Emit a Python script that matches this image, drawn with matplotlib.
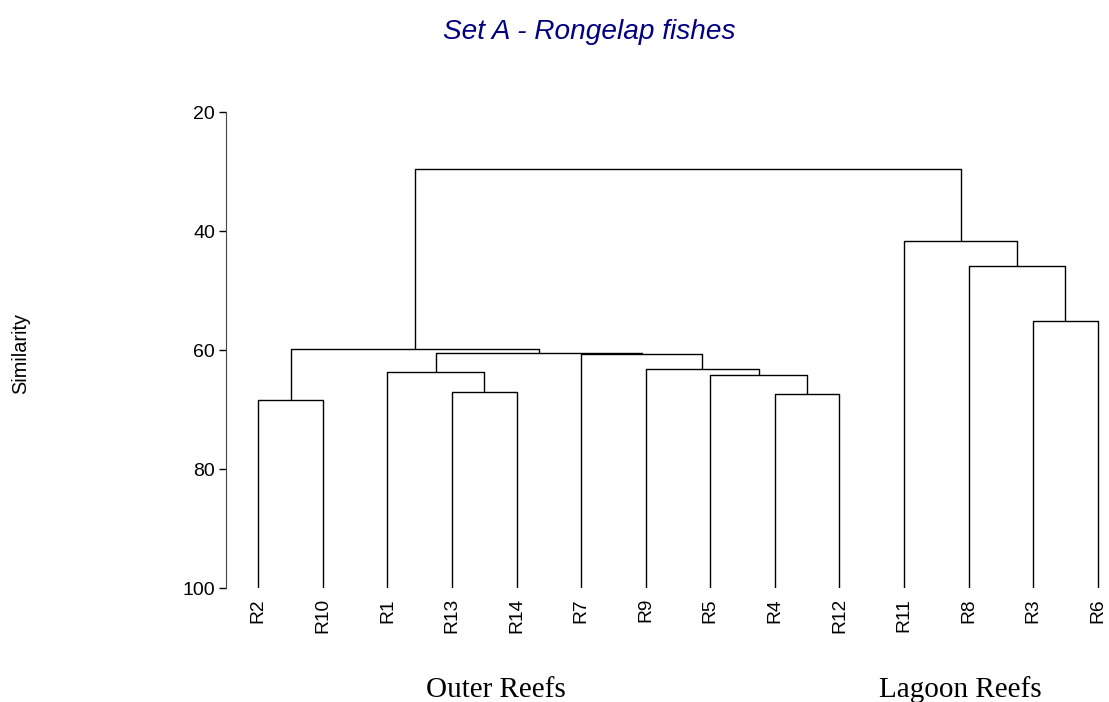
import numpy as np
import matplotlib
matplotlib.use("Agg")
import matplotlib.pyplot as plt

# leaf order as drawn, left to right
labels = ["R2","R10","R1","R13","R14","R7","R9","R5","R4","R12","R11","R8","R3","R6"]

# merges: child a, child b (leaf index 0-13, new clusters numbered 14+), similarity
merge_a = [0, 3, 2, 8, 7, 6, 5, 16, 14, 12, 11, 10, 22]
merge_b = [1, 4, 15, 9, 17, 18, 19, 20, 21, 13, 23, 24, 25]
merge_sim = [68.4, 67.0, 63.6, 67.4, 64.2, 63.2, 60.6, 60.4, 59.8, 55.0, 45.8, 41.6, 29.5]

groups = ["Outer Reefs", "Lagoon Reefs"]

plt.rcParams['font.family'] = ['Liberation Sans', 'DejaVu Sans']

fig = plt.figure(figsize=(11.09, 7.02), dpi=100)
ax = fig.add_axes([226/1109, 113.7/702, (1130-226)/1109, 476/702])

n = len(labels)
xpos = list(np.arange(n, dtype=float))
ypos = [100.0]*n
for a, b, s in zip(merge_a, merge_b, merge_sim):
    xa, xb = xpos[a], xpos[b]
    ya, yb = ypos[a], ypos[b]
    ax.plot([xa, xa, xb, xb], [ya, s, s, yb], color='black', lw=1.0, solid_capstyle='butt')
    xpos.append((xa+xb)/2.0)
    ypos.append(s)

ax.set_xlim(-0.5, n-0.5)
ax.set_ylim(100, 20)
ax.set_yticks([20, 40, 60, 80, 100])
ax.set_xticks(np.arange(n))
ax.set_xticklabels(labels, rotation=90, fontsize=13.8)
ax.tick_params(axis='x', length=0, pad=7)
ax.tick_params(axis='y', length=5, width=1, pad=3, labelsize=14)
for sp in ['top', 'right', 'bottom']:
    ax.spines[sp].set_visible(False)
ax.spines['left'].set_color('#444444')

fig.text(21/1109, 349/702, "Similarity", rotation=90, ha='center', va='center', fontsize=14.3)
fig.text(589.5/1109, (702-39)/702, "Set A - Rongelap fishes", ha='center', va='baseline',
         fontsize=20.2, style='italic', color='#000080')
fig.text(496/1109, 5/702, groups[0], ha='center', va='baseline', fontsize=21,
         family=['Liberation Serif', 'DejaVu Serif'])
fig.text(960/1109, 5/702, groups[1], ha='center', va='baseline', fontsize=21,
         family=['Liberation Serif', 'DejaVu Serif'])

fig.savefig("out.png", dpi=100)
